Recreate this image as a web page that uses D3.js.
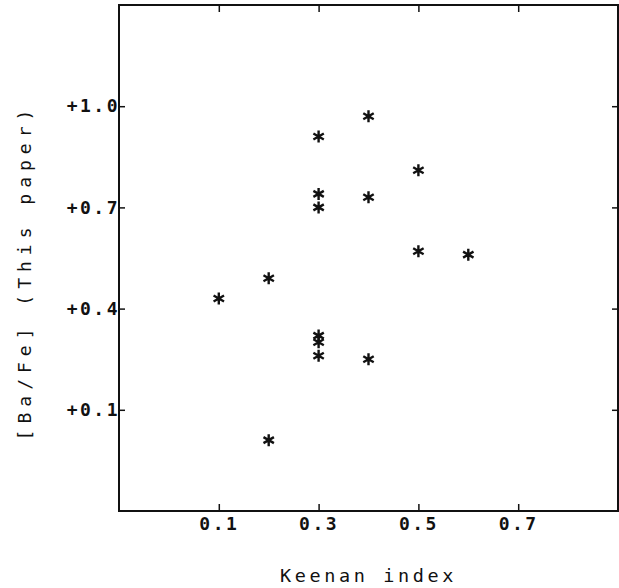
<!DOCTYPE html>
<html>
<head>
<meta charset="utf-8">
<script src="https://cdn.jsdelivr.net/npm/d3@7"></script>
<style>
  body { margin: 0; background: #fff; }
  text { font-family: "DejaVu Sans Mono", "Liberation Mono", monospace; fill: #111; }
</style>
</head>
<body>
<div id="chart"></div>
<script>
// Keenan index vs [Ba/Fe]
var keenan = [0.4, 0.3, 0.5, 0.3, 0.4, 0.3, 0.5, 0.6, 0.2, 0.1, 0.3, 0.3, 0.3, 0.4, 0.2];
var bafe   = [0.97, 0.91, 0.81, 0.74, 0.73, 0.70, 0.57, 0.56, 0.49, 0.43, 0.32, 0.30, 0.26, 0.25, 0.01];
var xTicks = [0.1, 0.3, 0.5, 0.7];
var yTicks = [0.1, 0.4, 0.7, 1.0];

var W = 619, H = 588;
var margin = {top: 5, right: 1, bottom: 77, left: 119},
    width = W - margin.left - margin.right,
    height = H - margin.top - margin.bottom;

var svg = d3.select("#chart")
  .append("svg")
    .attr("width", W)
    .attr("height", H)
  .append("g")
    .attr("transform", "translate(" + margin.left + "," + margin.top + ")");

var x = d3.scaleLinear().domain([-0.1, 0.9]).range([0, width]);
var y = d3.scaleLinear().domain([-0.2, 1.3]).range([height, 0]);

var fx = d3.format(".1f");
var fy = function(d) { return "+" + d3.format(".1f")(d); };

function style(g) {
  g.select(".domain").remove();
  g.selectAll(".tick line").attr("stroke", "#111").attr("stroke-width", 1.5);
  g.selectAll(".tick text")
    .style("font-size", "18px")
    .style("letter-spacing", "2.5px")
    .style("font-weight", "600")
    .attr("fill", "#111");
}

svg.append("g")
  .attr("transform", "translate(0," + height + ")")
  .call(d3.axisBottom(x).tickValues(xTicks).tickFormat(fx).tickSize(-7).tickPadding(6))
  .call(style);

svg.append("g")
  .call(d3.axisTop(x).tickValues(xTicks).tickFormat("").tickSize(-7))
  .call(style);

svg.append("g")
  .call(d3.axisLeft(y).tickValues(yTicks).tickFormat(fy).tickSize(-6).tickPadding(-1))
  .call(style);

svg.append("g")
  .attr("transform", "translate(" + width + ",0)")
  .call(d3.axisRight(y).tickValues(yTicks).tickFormat("").tickSize(-6))
  .call(style);

// frame
svg.append("rect")
  .attr("x", 0).attr("y", 0)
  .attr("width", width).attr("height", height)
  .attr("fill", "none")
  .attr("stroke", "#111")
  .attr("stroke-width", 2);

// asterisk markers
var r = 6;
var star = "M0," + (-r) + "L0," + r +
  "M" + (-r * 0.87) + "," + (-r * 0.5) + "L" + (r * 0.87) + "," + (r * 0.5) +
  "M" + (-r * 0.87) + "," + (r * 0.5) + "L" + (r * 0.87) + "," + (-r * 0.5);

svg.selectAll(".pt")
  .data(d3.range(keenan.length))
  .enter().append("path")
    .attr("class", "pt")
    .attr("transform", function(i) { return "translate(" + x(keenan[i]) + "," + y(bafe[i]) + ")"; })
    .attr("d", star)
    .attr("stroke", "#111")
    .attr("stroke-width", 2.4)
    .attr("fill", "none");

// axis titles
svg.append("text")
  .attr("x", width / 2)
  .attr("y", height + 71)
  .attr("text-anchor", "middle")
  .style("font-size", "18.5px")
  .style("letter-spacing", "3.6px")
  .text("Keenan index");

svg.append("text")
  .attr("transform", "translate(" + (31 - margin.left) + "," + (272 - margin.top) + ") rotate(-90)")
  .attr("text-anchor", "middle")
  .style("font-size", "18px")
  .style("letter-spacing", "6px")
  .text("[Ba/Fe] (This paper)");
</script>
</body>
</html>
